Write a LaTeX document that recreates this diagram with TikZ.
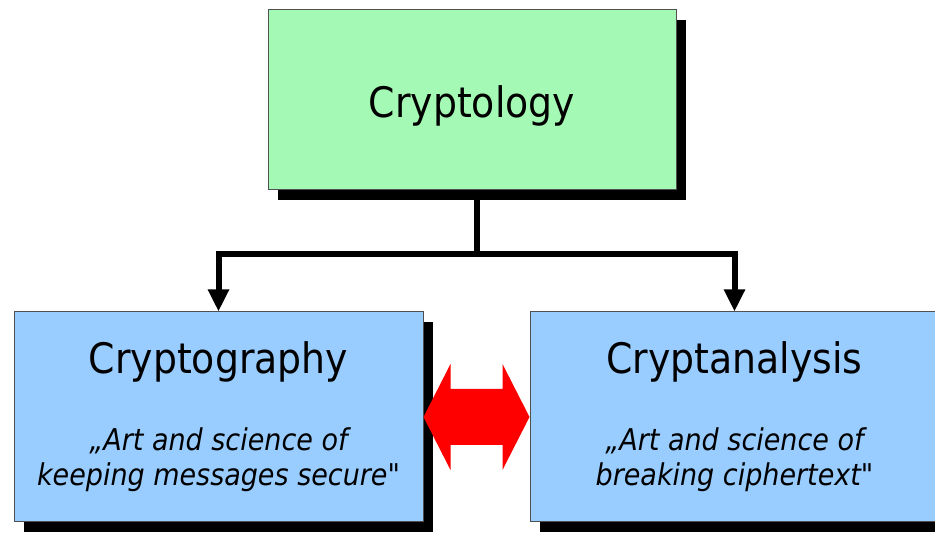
\documentclass[tikz,border=0pt]{standalone}
\usepackage{fontspec}
\setmainfont{DejaVu Sans Condensed}[Ligatures=TeXOff]
\usetikzlibrary{arrows.meta}
\usetikzlibrary{shadows}
\usetikzlibrary{calc}
\definecolor{mgreen}{RGB}{164,250,180}
\definecolor{mblue}{RGB}{153,204,255}
\definecolor{mborder}{RGB}{80,80,80}
\newcommand{\headfont}{\fontsize{42}{48}\selectfont\upshape}
\newcommand{\quotefont}{\fontsize{30}{35}\selectfont\itshape}
\tikzset{box/.style = {draw=mborder, line width=1pt, inner sep=0pt, align=center,
                       drop shadow={shadow xshift=10pt, shadow yshift=-10pt, fill=black, opacity=1}},
         greenbox/.style = {box, fill=mgreen, minimum width=408pt, minimum height=180pt,
                            text height=48pt, text depth=12pt, font=\fontsize{42}{48}\selectfont},
         bluebox/.style = {box, fill=mblue, minimum width=409pt, minimum height=210pt, font=\quotefont},
         link/.style = {line width=6pt, -{Triangle[width=20pt,length=22pt]}}}

\begin{document}
\begin{tikzpicture}[x=1pt, y=1pt]
      \useasboundingbox (0, 0) rectangle (935, 533);
      \clip (0, 0) rectangle (935, 533);

      \node [greenbox] (logy) at (472, 433) {Cryptology};
      \node [bluebox] (graphy) at (218.5, 116)
            {{\headfont Cryptography}\\[42pt] „Art and science of\\ keeping messages secure"};
      \node [bluebox] (analysis) at (734.5, 116)
            {{\headfont Cryptanalysis}\\[42pt] „Art and science of\\ breaking ciphertext"};

      % tree connectors
      \coordinate (fork) at ($(logy.south) + (5, -64)$);
      \draw [line width=6pt] ([xshift=5pt]logy.south) -- (fork);
      \draw [link] (fork) -| (graphy.north);
      \draw [link] (fork) -| (analysis.north);

      % red double arrow
      \fill [red] (graphy.east) -- ++(27, 53) -- ++(0, -25) -- ($(analysis.west) + (-27, 28)$)
            -- ++(0, 25) -- (analysis.west) -- ++(-27, -53) -- ++(0, 25)
            -- ($(graphy.east) + (27, -28)$) -- ++(0, -25) -- cycle;
    \end{tikzpicture}
\end{document}
